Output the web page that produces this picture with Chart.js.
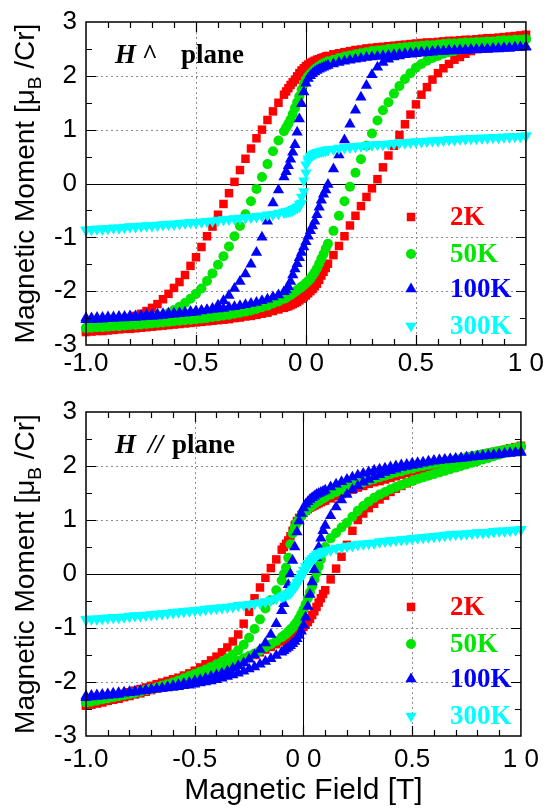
<!DOCTYPE html>
<html>
<head>
<meta charset="utf-8">
<script src="https://cdn.jsdelivr.net/npm/chart.js@4.4.1/dist/chart.umd.min.js"></script>
<style>
  body { margin: 0; background: #fff; }
  canvas { position: absolute; left: 0; }
</style>
</head>
<body>
<canvas id="perp" width="550" height="390" style="top:0"></canvas>
<canvas id="para" width="550" height="421" style="top:390px"></canvas>
<script>
// field sweep points [T], shared by every branch
const FIELD = [
  -1.0, -0.975, -0.95, -0.925, -0.9, -0.875, -0.85, -0.825, -0.8, -0.775,
  -0.75, -0.725, -0.7, -0.675, -0.65, -0.625, -0.6, -0.575, -0.55, -0.525,
  -0.5, -0.475, -0.45, -0.425, -0.4, -0.375, -0.35, -0.325, -0.3, -0.275,
  -0.25, -0.225, -0.2, -0.175, -0.15, -0.125, -0.1,
  -0.09, -0.08, -0.07, -0.06, -0.05, -0.04, -0.03, -0.02, -0.01, 0,
  0.01, 0.02, 0.03, 0.04, 0.05, 0.06, 0.07, 0.08, 0.09,
  0.1, 0.125, 0.15, 0.175, 0.2, 0.225, 0.25, 0.275, 0.3, 0.325,
  0.35, 0.375, 0.4, 0.425, 0.45, 0.475, 0.5, 0.525, 0.55, 0.575,
  0.6, 0.625, 0.65, 0.675, 0.7, 0.725, 0.75, 0.775, 0.8, 0.825,
  0.85, 0.875, 0.9, 0.925, 0.95, 0.975, 1.0
];

const TEMPS = ['2K', '50K', '100K', '300K'];
const X_TICK_LABELS = ['-1.0', '-0.5', '0 0', '0.5', '1 0'];

// H perpendicular to plane, "down" = field sweeping +1 -> -1, "up" = -1 -> +1
const PERP_2K_DOWN = [
  -2.74, -2.71, -2.69, -2.66, -2.63, -2.60, -2.57, -2.54, -2.50, -2.46,
  -2.42, -2.37, -2.31, -2.24, -2.15, -2.05, -1.94, -1.83, -1.70, -1.53,
  -1.37, -1.18, -0.98, -0.80, -0.58, -0.38, -0.18, 0.03, 0.25, 0.46,
  0.65, 0.84, 1.00, 1.18, 1.34, 1.50, 1.65,
  1.71, 1.77, 1.83, 1.88, 1.93, 1.99, 2.05, 2.10, 2.14, 2.18,
  2.21, 2.24, 2.26, 2.28, 2.30, 2.31, 2.33, 2.34, 2.36,
  2.37, 2.40, 2.42, 2.44, 2.46, 2.48, 2.49, 2.51, 2.52, 2.53,
  2.54, 2.55, 2.56, 2.57, 2.58, 2.59, 2.60, 2.61, 2.62, 2.62,
  2.63, 2.64, 2.65, 2.65, 2.66, 2.67, 2.67, 2.68, 2.69, 2.70,
  2.70, 2.71, 2.72, 2.73, 2.74, 2.75, 2.76
];
const PERP_2K_UP = [
  -2.76, -2.75, -2.74, -2.74, -2.73, -2.72, -2.71, -2.70, -2.70, -2.69,
  -2.68, -2.67, -2.66, -2.65, -2.64, -2.63, -2.62, -2.61, -2.60, -2.59,
  -2.58, -2.57, -2.56, -2.55, -2.54, -2.53, -2.52, -2.50, -2.49, -2.47,
  -2.46, -2.44, -2.42, -2.40, -2.37, -2.34, -2.31,
  -2.29, -2.28, -2.26, -2.24, -2.22, -2.20, -2.17, -2.14, -2.11, -2.08,
  -2.04, -2.00, -1.96, -1.91, -1.86, -1.79, -1.71, -1.64, -1.57,
  -1.49, -1.33, -1.16, -0.98, -0.78, -0.60, -0.42, -0.25, -0.09, 0.08,
  0.30, 0.52, 0.70, 0.90, 1.10, 1.28, 1.47, 1.65, 1.79, 1.93,
  2.05, 2.14, 2.22, 2.30, 2.35, 2.41, 2.46, 2.50, 2.54, 2.58,
  2.62, 2.65, 2.68, 2.70, 2.72, 2.74, 2.76
];
const PERP_50K_DOWN = [
  -2.68, -2.67, -2.66, -2.65, -2.64, -2.63, -2.62, -2.61, -2.60, -2.59,
  -2.57, -2.55, -2.53, -2.50, -2.46, -2.41, -2.35, -2.29, -2.22, -2.14,
  -2.05, -1.95, -1.81, -1.67, -1.51, -1.35, -1.17, -0.98, -0.79, -0.57,
  -0.33, -0.10, 0.12, 0.36, 0.60, 0.80, 0.97,
  1.04, 1.11, 1.19, 1.29, 1.40, 1.51, 1.62, 1.74, 1.85, 1.93,
  1.99, 2.04, 2.08, 2.12, 2.15, 2.18, 2.21, 2.23, 2.25,
  2.27, 2.30, 2.33, 2.36, 2.38, 2.40, 2.42, 2.44, 2.46, 2.47,
  2.48, 2.50, 2.51, 2.52, 2.53, 2.54, 2.55, 2.56, 2.57, 2.57,
  2.58, 2.59, 2.60, 2.60, 2.61, 2.62, 2.62, 2.63, 2.63, 2.64,
  2.64, 2.65, 2.66, 2.66, 2.67, 2.67, 2.68
];
const PERP_50K_UP = [
  -2.69, -2.68, -2.67, -2.67, -2.66, -2.65, -2.65, -2.64, -2.63, -2.63,
  -2.62, -2.61, -2.60, -2.59, -2.58, -2.57, -2.56, -2.55, -2.54, -2.53,
  -2.52, -2.51, -2.50, -2.48, -2.47, -2.45, -2.44, -2.42, -2.40, -2.38,
  -2.36, -2.33, -2.30, -2.27, -2.23, -2.19, -2.14,
  -2.12, -2.09, -2.07, -2.04, -2.01, -1.98, -1.95, -1.92, -1.89, -1.85,
  -1.81, -1.77, -1.71, -1.65, -1.58, -1.49, -1.40, -1.31, -1.21,
  -1.12, -0.88, -0.60, -0.33, -0.06, 0.20, 0.45, 0.70, 0.93, 1.17,
  1.36, 1.51, 1.67, 1.81, 1.94, 2.05, 2.15, 2.22, 2.28, 2.33,
  2.37, 2.41, 2.44, 2.46, 2.49, 2.51, 2.53, 2.55, 2.57, 2.58,
  2.60, 2.62, 2.63, 2.64, 2.65, 2.66, 2.68
];
const PERP_100K_DOWN = [
  -2.53, -2.53, -2.52, -2.52, -2.51, -2.51, -2.50, -2.50, -2.49, -2.49,
  -2.48, -2.47, -2.47, -2.46, -2.45, -2.44, -2.43, -2.42, -2.41, -2.40,
  -2.39, -2.37, -2.35, -2.32, -2.26, -2.18, -2.08, -1.95, -1.82, -1.68,
  -1.50, -1.28, -1.00, -0.70, -0.36, -0.12, 0.12,
  0.22, 0.33, 0.45, 0.58, 0.72, 0.95, 1.20, 1.48, 1.70, 1.86,
  1.95, 2.00, 2.04, 2.07, 2.10, 2.12, 2.14, 2.16, 2.18,
  2.19, 2.22, 2.25, 2.27, 2.29, 2.31, 2.32, 2.34, 2.35, 2.36,
  2.37, 2.38, 2.39, 2.40, 2.41, 2.42, 2.43, 2.44, 2.44, 2.45,
  2.46, 2.46, 2.47, 2.47, 2.48, 2.48, 2.49, 2.49, 2.50, 2.50,
  2.51, 2.51, 2.52, 2.52, 2.53, 2.53, 2.54
];
const PERP_100K_UP = [
  -2.50, -2.50, -2.49, -2.49, -2.48, -2.48, -2.47, -2.47, -2.46, -2.46,
  -2.45, -2.44, -2.44, -2.43, -2.42, -2.41, -2.41, -2.40, -2.39, -2.38,
  -2.37, -2.36, -2.35, -2.34, -2.33, -2.32, -2.30, -2.29, -2.27, -2.25,
  -2.23, -2.21, -2.18, -2.15, -2.11, -2.07, -2.01,
  -1.98, -1.92, -1.82, -1.70, -1.59, -1.49, -1.38, -1.28, -1.18, -1.08,
  -0.98, -0.88, -0.79, -0.70, -0.58, -0.44, -0.31, -0.20, -0.12,
  -0.02, 0.27, 0.53, 0.81, 1.10, 1.36, 1.60, 1.82, 2.02, 2.16,
  2.25, 2.31, 2.35, 2.37, 2.39, 2.40, 2.41, 2.42, 2.43, 2.44,
  2.45, 2.45, 2.46, 2.46, 2.47, 2.47, 2.48, 2.48, 2.49, 2.49,
  2.50, 2.50, 2.51, 2.51, 2.52, 2.52, 2.53
];
const PERP_300K_DOWN = [
  -0.86, -0.85, -0.84, -0.84, -0.83, -0.82, -0.82, -0.81, -0.80, -0.80,
  -0.79, -0.78, -0.78, -0.77, -0.76, -0.75, -0.75, -0.74, -0.73, -0.72,
  -0.72, -0.71, -0.70, -0.69, -0.68, -0.67, -0.66, -0.65, -0.64, -0.63,
  -0.62, -0.61, -0.60, -0.58, -0.57, -0.55, -0.53,
  -0.52, -0.51, -0.50, -0.48, -0.46, -0.43, -0.38, -0.25, 0.05, 0.35,
  0.46, 0.51, 0.54, 0.56, 0.58, 0.59, 0.60, 0.61, 0.62,
  0.63, 0.64, 0.66, 0.67, 0.68, 0.69, 0.70, 0.71, 0.72, 0.73,
  0.73, 0.74, 0.75, 0.76, 0.76, 0.77, 0.78, 0.78, 0.79, 0.80,
  0.80, 0.81, 0.82, 0.82, 0.83, 0.83, 0.84, 0.84, 0.85, 0.85,
  0.86, 0.86, 0.87, 0.87, 0.88, 0.88, 0.89
];
const PERP_300K_UP = [
  -0.87, -0.86, -0.85, -0.85, -0.84, -0.83, -0.83, -0.82, -0.81, -0.81,
  -0.80, -0.79, -0.79, -0.78, -0.77, -0.76, -0.76, -0.75, -0.74, -0.73,
  -0.73, -0.72, -0.71, -0.70, -0.69, -0.68, -0.67, -0.66, -0.65, -0.64,
  -0.63, -0.62, -0.61, -0.59, -0.58, -0.56, -0.54,
  -0.53, -0.52, -0.51, -0.50, -0.48, -0.46, -0.43, -0.36, -0.15, 0.20,
  0.42, 0.49, 0.53, 0.55, 0.57, 0.58, 0.59, 0.60, 0.61,
  0.62, 0.63, 0.65, 0.66, 0.67, 0.68, 0.69, 0.70, 0.71, 0.72,
  0.72, 0.73, 0.74, 0.75, 0.75, 0.76, 0.77, 0.77, 0.78, 0.79,
  0.79, 0.80, 0.81, 0.81, 0.82, 0.82, 0.83, 0.83, 0.84, 0.84,
  0.85, 0.85, 0.86, 0.86, 0.87, 0.87, 0.88
];

// H parallel to plane
const PARA_2K_DOWN = [
  -2.43, -2.40, -2.37, -2.34, -2.31, -2.28, -2.25, -2.22, -2.19, -2.16,
  -2.13, -2.10, -2.07, -2.04, -2.01, -1.98, -1.95, -1.92, -1.88, -1.84,
  -1.79, -1.73, -1.67, -1.60, -1.53, -1.45, -1.36, -1.25, -1.12, -0.92,
  -0.70, -0.45, -0.25, -0.07, 0.11, 0.27, 0.45,
  0.50, 0.56, 0.62, 0.70, 0.80, 0.90, 0.98, 1.04, 1.09, 1.13,
  1.17, 1.20, 1.23, 1.25, 1.27, 1.29, 1.31, 1.33, 1.35,
  1.36, 1.40, 1.44, 1.48, 1.53, 1.56, 1.60, 1.63, 1.67, 1.70,
  1.72, 1.75, 1.78, 1.81, 1.84, 1.87, 1.90, 1.92, 1.95, 1.97,
  2.00, 2.02, 2.05, 2.07, 2.10, 2.12, 2.14, 2.17, 2.19, 2.21,
  2.24, 2.26, 2.28, 2.30, 2.33, 2.35, 2.37
];
const PARA_2K_UP = [
  -2.44, -2.42, -2.40, -2.38, -2.35, -2.33, -2.31, -2.28, -2.26, -2.23,
  -2.21, -2.18, -2.15, -2.12, -2.10, -2.07, -2.04, -2.01, -1.98, -1.95,
  -1.92, -1.89, -1.86, -1.82, -1.79, -1.75, -1.71, -1.67, -1.63, -1.59,
  -1.55, -1.50, -1.45, -1.40, -1.35, -1.30, -1.25,
  -1.23, -1.21, -1.19, -1.16, -1.14, -1.11, -1.08, -1.05, -1.02, -0.98,
  -0.94, -0.89, -0.83, -0.76, -0.69, -0.61, -0.53, -0.45, -0.37,
  -0.30, -0.10, 0.10, 0.32, 0.54, 0.80, 1.00, 1.12, 1.22, 1.30,
  1.38, 1.45, 1.52, 1.58, 1.63, 1.68, 1.73, 1.77, 1.81, 1.85,
  1.89, 1.92, 1.95, 1.98, 2.02, 2.05, 2.08, 2.11, 2.14, 2.17,
  2.20, 2.23, 2.26, 2.29, 2.32, 2.34, 2.37
];
const PARA_50K_DOWN = [
  -2.38, -2.36, -2.34, -2.32, -2.30, -2.28, -2.26, -2.24, -2.22, -2.20,
  -2.18, -2.15, -2.13, -2.10, -2.07, -2.04, -2.01, -1.97, -1.93, -1.89,
  -1.85, -1.81, -1.77, -1.72, -1.67, -1.62, -1.56, -1.49, -1.41, -1.31,
  -1.18, -1.02, -0.84, -0.64, -0.48, -0.30, -0.12,
  0.00, 0.12, 0.30, 0.55, 0.75, 0.86, 0.95, 1.02, 1.08, 1.13,
  1.17, 1.21, 1.24, 1.27, 1.30, 1.33, 1.35, 1.38, 1.40,
  1.42, 1.47, 1.52, 1.56, 1.60, 1.64, 1.67, 1.70, 1.73, 1.76,
  1.79, 1.82, 1.85, 1.88, 1.90, 1.93, 1.95, 1.98, 2.00, 2.02,
  2.04, 2.06, 2.08, 2.10, 2.12, 2.14, 2.16, 2.18, 2.20, 2.22,
  2.24, 2.26, 2.28, 2.30, 2.32, 2.34, 2.36
];
const PARA_50K_UP = [
  -2.38, -2.36, -2.34, -2.32, -2.30, -2.28, -2.26, -2.24, -2.22, -2.20,
  -2.17, -2.15, -2.12, -2.10, -2.07, -2.05, -2.02, -1.99, -1.96, -1.93,
  -1.90, -1.87, -1.84, -1.80, -1.77, -1.73, -1.69, -1.65, -1.61, -1.56,
  -1.52, -1.47, -1.42, -1.36, -1.30, -1.24, -1.17,
  -1.14, -1.11, -1.07, -1.03, -0.99, -0.94, -0.89, -0.82, -0.74, -0.66,
  -0.56, -0.45, -0.34, -0.22, -0.10, 0.02, 0.14, 0.27, 0.40,
  0.50, 0.66, 0.76, 0.86, 0.95, 1.06, 1.17, 1.26, 1.34, 1.41,
  1.47, 1.52, 1.57, 1.61, 1.65, 1.69, 1.72, 1.76, 1.79, 1.82,
  1.85, 1.88, 1.91, 1.94, 1.97, 2.00, 2.03, 2.06, 2.09, 2.12,
  2.15, 2.18, 2.21, 2.24, 2.28, 2.32, 2.36
];
const PARA_100K_DOWN = [
  -2.29, -2.28, -2.27, -2.26, -2.25, -2.24, -2.23, -2.21, -2.20, -2.19,
  -2.17, -2.16, -2.14, -2.13, -2.11, -2.09, -2.07, -2.05, -2.03, -2.01,
  -1.98, -1.96, -1.93, -1.90, -1.87, -1.84, -1.80, -1.75, -1.70, -1.65,
  -1.58, -1.50, -1.40, -1.28, -1.12, -0.92, -0.68,
  -0.55, -0.38, -0.20, 0.00, 0.25, 0.50, 0.78, 0.98, 1.12, 1.22,
  1.29, 1.34, 1.38, 1.41, 1.44, 1.47, 1.49, 1.51, 1.53,
  1.55, 1.61, 1.66, 1.71, 1.75, 1.79, 1.83, 1.86, 1.89, 1.92,
  1.94, 1.96, 1.98, 2.00, 2.02, 2.03, 2.05, 2.06, 2.07, 2.09,
  2.10, 2.11, 2.12, 2.13, 2.14, 2.15, 2.16, 2.17, 2.18, 2.19,
  2.20, 2.21, 2.22, 2.23, 2.24, 2.25, 2.26
];
const PARA_100K_UP = [
  -2.26, -2.25, -2.24, -2.23, -2.22, -2.21, -2.20, -2.19, -2.18, -2.17,
  -2.16, -2.15, -2.14, -2.13, -2.12, -2.11, -2.10, -2.09, -2.07, -2.06,
  -2.04, -2.02, -2.00, -1.98, -1.96, -1.93, -1.90, -1.87, -1.84, -1.80,
  -1.76, -1.72, -1.67, -1.62, -1.57, -1.51, -1.45,
  -1.42, -1.39, -1.36, -1.33, -1.29, -1.25, -1.20, -1.14, -1.06, -0.95,
  -0.80, -0.60, -0.38, -0.15, 0.08, 0.30, 0.50, 0.66, 0.80,
  0.90, 1.08, 1.24, 1.37, 1.47, 1.56, 1.63, 1.70, 1.75, 1.80,
  1.84, 1.88, 1.91, 1.94, 1.97, 1.99, 2.01, 2.03, 2.05, 2.07,
  2.09, 2.10, 2.11, 2.12, 2.13, 2.14, 2.15, 2.16, 2.17, 2.18,
  2.19, 2.20, 2.21, 2.22, 2.23, 2.24, 2.25
];
const PARA_300K_DOWN = [
  -0.84, -0.83, -0.83, -0.82, -0.81, -0.80, -0.80, -0.79, -0.78, -0.77,
  -0.77, -0.76, -0.75, -0.74, -0.73, -0.72, -0.71, -0.70, -0.69, -0.68,
  -0.67, -0.66, -0.65, -0.64, -0.63, -0.62, -0.61, -0.60, -0.58, -0.57,
  -0.56, -0.54, -0.53, -0.51, -0.48, -0.45, -0.42,
  -0.40, -0.38, -0.36, -0.33, -0.28, -0.22, -0.15, -0.08, 0.00, 0.07,
  0.14, 0.20, 0.25, 0.29, 0.33, 0.36, 0.38, 0.40, 0.42,
  0.43, 0.45, 0.48, 0.50, 0.52, 0.53, 0.55, 0.56, 0.57, 0.58,
  0.60, 0.61, 0.62, 0.63, 0.64, 0.65, 0.66, 0.67, 0.68, 0.69,
  0.70, 0.71, 0.72, 0.73, 0.74, 0.74, 0.75, 0.76, 0.77, 0.77,
  0.78, 0.79, 0.80, 0.80, 0.81, 0.82, 0.83
];
const PARA_300K_UP = [
  -0.85, -0.84, -0.84, -0.83, -0.82, -0.81, -0.81, -0.80, -0.79, -0.78,
  -0.78, -0.77, -0.76, -0.75, -0.74, -0.73, -0.72, -0.71, -0.70, -0.69,
  -0.68, -0.67, -0.66, -0.65, -0.64, -0.63, -0.62, -0.61, -0.59, -0.58,
  -0.57, -0.55, -0.54, -0.52, -0.49, -0.46, -0.43,
  -0.41, -0.39, -0.37, -0.35, -0.31, -0.26, -0.20, -0.13, -0.06, 0.01,
  0.08, 0.15, 0.21, 0.26, 0.30, 0.34, 0.37, 0.39, 0.41,
  0.42, 0.44, 0.47, 0.49, 0.51, 0.52, 0.54, 0.55, 0.56, 0.57,
  0.59, 0.60, 0.61, 0.62, 0.63, 0.64, 0.65, 0.66, 0.67, 0.68,
  0.69, 0.70, 0.71, 0.72, 0.73, 0.73, 0.74, 0.75, 0.76, 0.76,
  0.77, 0.78, 0.79, 0.79, 0.80, 0.81, 0.82
];

const COLORS = ['#ff0000', '#00e600', '#0000ff', '#00ffff'];
const MARKERS = [
  { pointStyle: 'rect', radius: 6, rotation: 0 },
  { pointStyle: 'circle', radius: 5, rotation: 0 },
  { pointStyle: 'triangle', radius: 6.5, rotation: 0 },
  { pointStyle: 'triangle', radius: 6.5, rotation: 180 }
];
const SANS = '"Liberation Sans", Arial, sans-serif';
const SERIF = '"Liberation Serif", "Times New Roman", serif';

// one loop = down sweep followed by up sweep
function loop(down, up) {
  return FIELD.map((h, i) => ({ x: h, y: down[i] }))
    .concat(FIELD.map((h, i) => ({ x: h, y: up[i] })));
}

function marker(ctx, m, x, y) {
  if (Chart.helpers && Chart.helpers.drawPoint) {
    Chart.helpers.drawPoint(ctx, { pointStyle: m.pointStyle, radius: m.radius, rotation: m.rotation, borderWidth: 0 }, x, y);
    return;
  }
  ctx.beginPath();
  ctx.arc(x, y, m.radius, 0, Math.PI * 2);
  ctx.fill();
}

// grid, zero lines, frame with inward ticks
const framePlugin = {
  id: 'frame',
  beforeDatasetsDraw(chart) {
    const { ctx, chartArea: a, scales: { x, y } } = chart;
    ctx.save();
    ctx.strokeStyle = '#8c8c8c';
    ctx.lineWidth = 1;
    ctx.setLineDash([2, 3]);
    [-0.5, 0.5].forEach(v => {
      const px = Math.round(x.getPixelForValue(v)) + 0.5;
      ctx.beginPath(); ctx.moveTo(px, a.top); ctx.lineTo(px, a.bottom); ctx.stroke();
    });
    [-2, -1, 1, 2].forEach(v => {
      const py = Math.round(y.getPixelForValue(v)) + 0.5;
      ctx.beginPath(); ctx.moveTo(a.left, py); ctx.lineTo(a.right, py); ctx.stroke();
    });
    ctx.setLineDash([]);
    ctx.strokeStyle = '#000';
    const x0 = Math.round(x.getPixelForValue(0)) + 0.5;
    const y0 = Math.round(y.getPixelForValue(0)) + 0.5;
    ctx.beginPath(); ctx.moveTo(x0, a.top); ctx.lineTo(x0, a.bottom); ctx.stroke();
    ctx.beginPath(); ctx.moveTo(a.left, y0); ctx.lineTo(a.right, y0); ctx.stroke();
    ctx.restore();
  },
  afterDatasetsDraw(chart) {
    const { ctx, chartArea: a, scales: { x, y } } = chart;
    ctx.save();
    ctx.strokeStyle = '#000';
    ctx.lineWidth = 1.5;
    ctx.strokeRect(a.left, a.top, a.right - a.left, a.bottom - a.top);
    ctx.lineWidth = 1.2;
    ctx.beginPath();
    for (let k = -9; k <= 9; k++) {
      const px = Math.round(x.getPixelForValue(k / 10)) + 0.5;
      const len = k % 5 === 0 ? 10 : 6;
      ctx.moveTo(px, a.bottom); ctx.lineTo(px, a.bottom - len);
      ctx.moveTo(px, a.top); ctx.lineTo(px, a.top + len);
    }
    for (let k = -5; k <= 5; k++) {
      const py = Math.round(y.getPixelForValue(k / 2)) + 0.5;
      const len = k % 2 === 0 ? 10 : 6;
      ctx.moveTo(a.left, py); ctx.lineTo(a.left + len, py);
      ctx.moveTo(a.right, py); ctx.lineTo(a.right - len, py);
    }
    ctx.stroke();
    ctx.restore();
  }
};

// rotated y title with subscript B
const yTitlePlugin = {
  id: 'yTitle',
  afterDraw(chart) {
    const { ctx, chartArea: a } = chart;
    const parts = [
      { t: 'Magnetic Moment [\u03bc', f: '28px ' + SANS, dy: 0 },
      { t: 'B', f: '19px ' + SANS, dy: 7 },
      { t: ' /Cr]', f: '28px ' + SANS, dy: 0 }
    ];
    let w = 0;
    parts.forEach(p => { ctx.font = p.f; p.w = ctx.measureText(p.t).width; w += p.w; });
    ctx.save();
    ctx.translate(34, (a.top + a.bottom) / 2);
    ctx.rotate(-Math.PI / 2);
    ctx.fillStyle = '#000';
    ctx.textBaseline = 'alphabetic';
    let cx = -w / 2;
    parts.forEach(p => { ctx.font = p.f; ctx.fillText(p.t, cx, p.dy); cx += p.w; });
    ctx.restore();
  }
};

function makePanel(id, series, note, showTitle) {
  const notePlugin = {
    id: 'note',
    afterDraw(chart) {
      const { ctx, chartArea: a } = chart;
      ctx.save();
      ctx.fillStyle = '#000';
      ctx.textBaseline = 'alphabetic';
      note.forEach(p => {
        ctx.font = p.f + ' 27px ' + SERIF;
        ctx.fillText(p.t, a.left + 29 + p.dx, a.top + 41);
      });
      // legend
      const rows = [195, 232, 267, 304];
      TEMPS.forEach((t, i) => {
        ctx.fillStyle = COLORS[i];
        marker(ctx, MARKERS[i], a.left + 325, a.top + rows[i]);
        ctx.font = 'bold 27px ' + SERIF;
        ctx.textBaseline = 'middle';
        ctx.fillText(t, a.left + 364, a.top + rows[i] + 1);
      });
      ctx.restore();
    }
  };

  const datasets = TEMPS.map((t, i) => ({
    label: t,
    data: loop(series[i][0], series[i][1]),
    backgroundColor: COLORS[i],
    pointBackgroundColor: COLORS[i],
    pointBorderColor: COLORS[i],
    pointBorderWidth: 0,
    pointStyle: MARKERS[i].pointStyle,
    pointRadius: MARKERS[i].radius,
    pointRotation: MARKERS[i].rotation,
    order: TEMPS.length - i,
    clip: false
  }));

  return new Chart(document.getElementById(id), {
    type: 'scatter',
    data: { datasets },
    options: {
      responsive: false,
      animation: false,
      devicePixelRatio: 1,
      layout: { padding: { left: 0, right: 22, top: 14, bottom: 0 } },
      plugins: { legend: { display: false }, tooltip: { enabled: false } },
      scales: {
        x: {
          type: 'linear', min: -1, max: 1,
          grid: { display: false, drawTicks: false },
          border: { display: false },
          ticks: {
            stepSize: 0.5, autoSkip: false, maxRotation: 0,
            padding: showTitle ? 11 : 6,
            color: '#000', font: { family: SANS, size: 26, lineHeight: 1 },
            callback: v => X_TICK_LABELS[Math.round((v + 1) * 2)]
          },
          title: {
            display: showTitle, text: 'Magnetic Field [T]', color: '#000',
            font: { family: SANS, size: 30 }, padding: { top: 0, bottom: 2 }
          },
          afterFit: s => { s.height = showTitle ? 75 : 45; }
        },
        y: {
          min: -3, max: 3,
          grid: { display: false, drawTicks: false },
          border: { display: false },
          ticks: {
            stepSize: 1, padding: 9, color: '#000',
            font: { family: SANS, size: 26, lineHeight: 1 },
            callback: v => String(v)
          },
          afterFit: s => { s.width = 86; }
        }
      }
    },
    plugins: [framePlugin, yTitlePlugin, notePlugin]
  });
}

makePanel('perp', [
  [PERP_2K_DOWN, PERP_2K_UP],
  [PERP_50K_DOWN, PERP_50K_UP],
  [PERP_100K_DOWN, PERP_100K_UP],
  [PERP_300K_DOWN, PERP_300K_UP]
], [
  { t: 'H', f: 'italic bold', dx: 0 },
  { t: '^', f: 'bold', dx: 27 },
  { t: 'plane', f: 'bold', dx: 66 }
], false);

makePanel('para', [
  [PARA_2K_DOWN, PARA_2K_UP],
  [PARA_50K_DOWN, PARA_50K_UP],
  [PARA_100K_DOWN, PARA_100K_UP],
  [PARA_300K_DOWN, PARA_300K_UP]
], [
  { t: 'H', f: 'italic bold', dx: 0 },
  { t: '//', f: 'italic bold', dx: 33 },
  { t: 'plane', f: 'bold', dx: 57 }
], true);
</script>
</body>
</html>
